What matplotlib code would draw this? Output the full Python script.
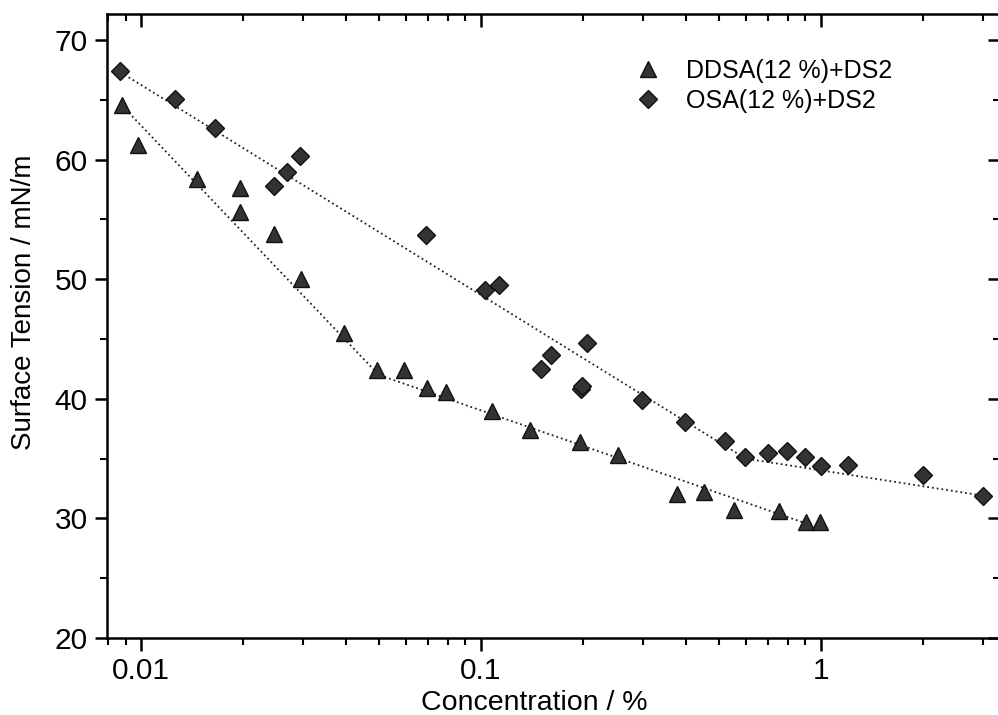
import matplotlib
matplotlib.use("Agg")
import matplotlib.pyplot as plt
from matplotlib.ticker import NullFormatter, MultipleLocator

plt.rcParams["font.family"] = ["Liberation Sans", "DejaVu Sans"]

# DDSA(12 %)+DS2 measurements
ddsa_conc = [0.0088, 0.0098, 0.0146, 0.0195, 0.0195, 0.0246, 0.0296, 0.0395, 0.0494, 0.0594,
             0.0694, 0.0789, 0.108, 0.139, 0.195, 0.253, 0.377, 0.453, 0.555, 0.752, 0.903, 0.993]
ddsa_st = [64.6, 61.2, 58.4, 57.6, 55.6, 53.8, 50.0, 45.5, 42.4, 42.4,
           40.9, 40.6, 39.0, 37.4, 36.4, 35.3, 32.0, 32.2, 30.7, 30.6, 29.7, 29.7]

# OSA(12 %)+DS2 measurements
osa_conc = [0.0087, 0.0126, 0.0165, 0.0246, 0.0269, 0.0293, 0.0689, 0.103, 0.113, 0.150,
            0.161, 0.205, 0.197, 0.198, 0.298, 0.398, 0.522, 0.597, 0.698, 0.794, 0.898,
            1.0, 1.2, 2.0, 2.99]
osa_st = [67.4, 65.1, 62.6, 57.8, 59.0, 60.3, 53.7, 49.1, 49.5, 42.5,
          43.7, 44.7, 40.8, 41.1, 39.9, 38.1, 36.5, 35.1, 35.5, 35.6, 35.1,
          34.4, 34.5, 33.6, 31.9]

# fitted break lines
ddsa_fit_conc = [0.0088, 0.050, 0.92]
ddsa_fit_st = [64.5, 42.0, 29.5]
osa_fit_conc = [0.0087, 0.60, 3.0]
osa_fit_st = [67.3, 35.0, 31.9]

fig = plt.figure(figsize=(9.98, 7.15), dpi=100)
ax = fig.add_axes([107/998, 77/715, 893/998, 624/715])

ax.plot(ddsa_fit_conc, ddsa_fit_st, linestyle=":", color="#222222", lw=1.3)
ax.plot(osa_fit_conc, osa_fit_st, linestyle=":", color="#222222", lw=1.3)
ax.plot(ddsa_conc, ddsa_st, linestyle="none", marker="^", ms=12, mfc="#333333", mec="#111111",
        label="DDSA(12 %)+DS2")
ax.plot(osa_conc, osa_st, linestyle="none", marker="D", ms=9.5, mfc="#333333", mec="#111111",
        label="OSA(12 %)+DS2")

ax.set_xscale("log")
ax.set_xlim(0.00794, 3.36)
ax.set_ylim(20, 72.17)
ax.set_xticks([0.01, 0.1, 1])
ax.set_xticklabels(["0.01", "0.1", "1"])
ax.xaxis.set_minor_formatter(NullFormatter())
ax.yaxis.set_major_locator(MultipleLocator(10))
ax.yaxis.set_minor_locator(MultipleLocator(5))

for s in ax.spines.values():
    s.set_linewidth(1.8)
ax.tick_params(axis="both", which="major", labelsize=21.5, width=1.8, length=9, direction="out", pad=5)
ax.tick_params(axis="both", which="minor", width=1.5, length=5, direction="out")

axt = ax.secondary_xaxis("top")
axt.set_xticks([0.01, 0.1, 1])
axt.tick_params(which="major", direction="in", length=9, width=1.8, labeltop=False)
axt.tick_params(which="minor", direction="in", length=5, width=1.5)
axt.xaxis.set_minor_formatter(NullFormatter())
axr = ax.secondary_yaxis("right")
axr.yaxis.set_major_locator(MultipleLocator(10))
axr.yaxis.set_minor_locator(MultipleLocator(5))
axr.tick_params(which="major", direction="in", length=9, width=1.8, labelright=False)
axr.tick_params(which="minor", direction="in", length=5, width=1.5)

ax.set_xlabel("Concentration / %", fontsize=20.5)
ax.set_ylabel("Surface Tension / mN/m", fontsize=20)
ax.xaxis.set_label_coords(0.479, -0.084)
ax.yaxis.set_label_coords(-0.078, 0.538)

ax.legend(loc="upper left", bbox_to_anchor=(0.553, 0.964), frameon=False, fontsize=18,
          handletextpad=0.5, labelspacing=0.25, numpoints=1)

fig.savefig("out.png", dpi=100)
